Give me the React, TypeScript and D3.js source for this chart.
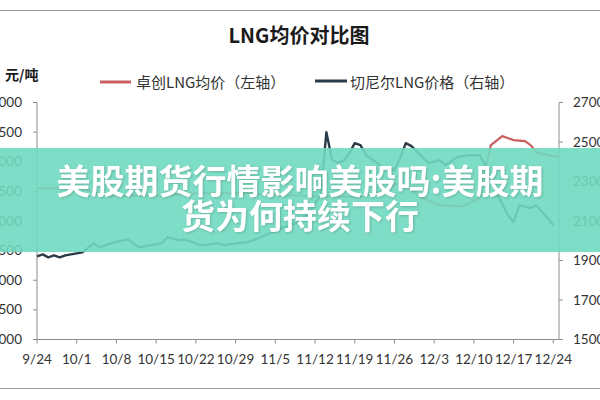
import React from "react";
import * as d3 from "d3";

const YEAR = 2018;
const title = "LNG均价对比图";
const unitLabel = "元/吨";
const seriesNames = ["卓创LNG均价（左轴）", "切尼尔LNG价格（右轴）"];
const bannerLines = ["美股期货行情影响美股吗:美股期", "货为何持续下行"];

const xTickLabels = ["9/24", "10/1", "10/8", "10/15", "10/22", "10/29", "11/5", "11/12", "11/19", "11/26", "12/3", "12/10", "12/17", "12/24"];
const leftTicks = [2000, 2500, 3000, 3500, 4000, 4500, 5000, 5500, 6000];
const rightTicks = [1500, 1700, 1900, 2100, 2300, 2500, 2700];

// 卓创LNG均价 (left axis)
const redDates = ["9/24", "10/2", "10/6", "10/16", "10/23", "10/30", "11/6", "11/13", "11/20", "11/23", "11/27", "12/1", "12/4", "12/8", "12/11", "12/12", "12/13", "12/15", "12/17", "12/19", "12/20", "12/21", "12/23", "12/25"];
const redValues = [4553, 4553, 4418, 4435, 4469, 4469, 4435, 4418, 4401, 4486, 4655, 4384, 4266, 4249, 4384, 4858, 5281, 5433, 5365, 5348, 5281, 5162, 5111, 5078];

// 切尼尔LNG价格 (right axis)
const darkDates = ["9/24", "9/25", "9/26", "9/27", "9/28", "9/29", "9/30", "10/2", "10/4", "10/5", "10/7", "10/9", "10/10", "10/12", "10/14", "10/16", "10/17", "10/19", "10/20", "10/23", "10/26", "10/27", "10/29", "10/31", "11/2", "11/4", "11/6", "11/8", "11/9", "11/11", "11/12", "11/13", "11/14", "11/15", "11/16", "11/17", "11/18", "11/19", "11/20", "11/21", "11/23", "11/24", "11/26", "11/27", "11/28", "11/29", "12/2", "12/4", "12/5", "12/7", "12/9", "12/11", "12/12", "12/13", "12/14", "12/16", "12/17", "12/18", "12/20", "12/21", "12/23", "12/24"];
const darkValues = [1921, 1931, 1916, 1926, 1916, 1926, 1931, 1941, 1987, 1967, 1987, 2002, 2007, 1967, 1977, 1987, 2018, 2002, 2007, 1977, 1987, 1977, 1987, 1992, 2012, 2038, 2063, 2083, 2094, 2144, 2190, 2230, 2550, 2410, 2395, 2405, 2440, 2494, 2484, 2433, 2393, 2368, 2358, 2418, 2494, 2479, 2393, 2408, 2383, 2423, 2433, 2433, 2383, 2307, 2241, 2129, 2094, 2180, 2165, 2180, 2114, 2080];

const parse = (s: string) => {
  const [m, d] = s.split("/").map(Number);
  return new Date(YEAR, m - 1, d);
};

const RED = "#c95f5f";
const DARK = "#2a3b47";
const AXIS = "#8c8c8c";
const TEXT = "#333333";
const TICKFONT = "Lato, 'Open Sans', sans-serif";
const CJK = "'Noto Sans CJK SC', 'Noto Sans', sans-serif";

export default function App() {
  const left = 37, right = 559, top = 102.5, bottom = 339.5;
  const x = d3.scaleTime().domain([parse("9/24"), parse("12/25")]).range([left, right]);
  const yL = d3.scaleLinear().domain([2000, 6000]).range([bottom, top]);
  const yR = d3.scaleLinear().domain([1500, 2700]).range([bottom, top]);

  const redData = redDates.map((d, i) => ({ x: parse(d), y: redValues[i] }));
  const darkData = darkDates.map((d, i) => ({ x: parse(d), y: darkValues[i] }));

  const redLine = d3.line<{ x: Date; y: number }>().x(d => x(d.x)).y(d => yL(d.y));
  const darkLine = d3.line<{ x: Date; y: number }>().x(d => x(d.x)).y(d => yR(d.y));

  return (
    <div style={{ position: "fixed", left: 0, top: 0 }}>
      <svg width={600} height={400} style={{ display: "block", background: "#fff" }}>
        <line x1={0} x2={600} y1={10.5} y2={10.5} stroke="#9a9a9a" strokeWidth={1} />
        <line x1={0} x2={600} y1={388.5} y2={388.5} stroke="#9a9a9a" strokeWidth={1} />

        <text x={299} y={43} textAnchor="middle" fontFamily={CJK} fontSize={20} fontWeight="bold" fill="#1a1a1a">{title}</text>
        <text x={5} y={80} fontFamily={CJK} fontSize={14} fontWeight="bold" fill="#1a1a1a">{unitLabel}</text>

        {/* legend */}
        <line x1={100} x2={131} y1={82} y2={82} stroke={RED} strokeWidth={3} />
        <text x={136} y={88} fontFamily={CJK} fontSize={15} fill={TEXT}>{seriesNames[0]}</text>
        <line x1={315} x2={347} y1={81} y2={81} stroke={DARK} strokeWidth={3} />
        <text x={350} y={88} fontFamily={CJK} fontSize={15} fill={TEXT}>{seriesNames[1]}</text>

        {/* axes */}
        <line x1={left} x2={left} y1={top} y2={bottom} stroke={AXIS} />
        <line x1={right} x2={right} y1={top} y2={bottom} stroke={AXIS} />
        <line x1={left} x2={right} y1={bottom} y2={bottom} stroke={AXIS} />
        {leftTicks.map(t => (
          <g key={"l" + t}>
            <line x1={left - 4} x2={left} y1={yL(t)} y2={yL(t)} stroke={AXIS} />
            <text x={22} y={yL(t) + 4.5} textAnchor="end" fontFamily={TICKFONT} fontSize={13.5} fill={TEXT}>{t}</text>
          </g>
        ))}
        {rightTicks.map(t => (
          <g key={"r" + t}>
            <line x1={right} x2={right + 4} y1={yR(t)} y2={yR(t)} stroke={AXIS} />
            <text x={573} y={yR(t) + 4.5} fontFamily={TICKFONT} fontSize={13.5} fill={TEXT}>{t}</text>
          </g>
        ))}
        {xTickLabels.map(t => (
          <g key={"x" + t}>
            <line x1={x(parse(t))} x2={x(parse(t))} y1={bottom} y2={bottom + 4} stroke={AXIS} />
            <text x={x(parse(t))} y={364} textAnchor="middle" fontFamily={TICKFONT} fontSize={13.5} fill={TEXT}>{t}</text>
          </g>
        ))}

        {/* series */}
        <path d={redLine(redData) || ""} fill="none" stroke={RED} strokeWidth={2.2} strokeLinejoin="round" />
        <path d={darkLine(darkData) || ""} fill="none" stroke={DARK} strokeWidth={2.4} strokeLinejoin="round" />

        {/* banner overlay */}
        <rect x={0} y={148} width={600} height={104} fill="rgb(112,217,192)" fillOpacity={0.9} />
        {bannerLines.map((s, i) => (
          <text key={"b" + i} x={300} y={194 + i * 35} textAnchor="middle" fontFamily={CJK} fontSize={34} fontWeight="bold" fill="#ffffff"
            style={{ filter: "drop-shadow(1px 1px 1px rgba(0,0,0,0.18))" }}>{s}</text>
        ))}
      </svg>
    </div>
  );
}
